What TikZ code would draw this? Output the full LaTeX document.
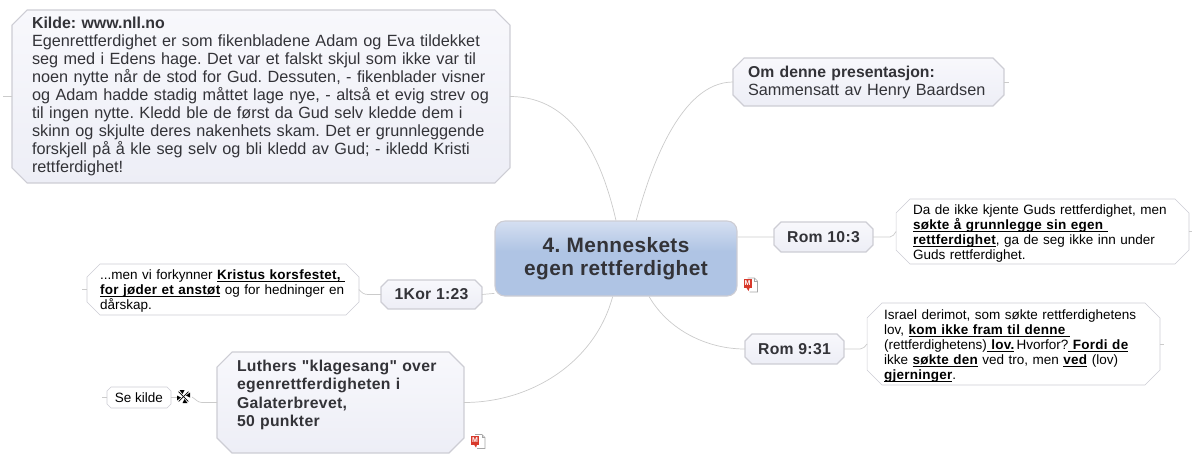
\documentclass[tikz,border=0pt]{standalone}
\usepackage{fontspec}
\setmainfont{Liberation Sans}
\newfontfamily\widefont[LetterSpace=2]{Liberation Sans}
\usetikzlibrary{calc}
\usetikzlibrary{backgrounds}
\definecolor{c_line}{HTML}{CBCBCB}
\definecolor{c_edge}{HTML}{CDCDD4}
\definecolor{c_box_top}{HTML}{F8F8FC}
\definecolor{c_box_bot}{HTML}{EDEEF6}
\definecolor{c_hub_top}{HTML}{D5DFF1}
\definecolor{c_hub_bot}{HTML}{AFC4E4}
\definecolor{c_text}{HTML}{333338}
\definecolor{c_mark}{HTML}{D8392B}
\pgfdeclareverticalshading{hubshade}{100bp}{color(0bp)=(c_hub_bot); color(55bp)=(c_hub_bot); color(75bp)=(c_hub_top); color(100bp)=(c_hub_top)}
\frenchspacing
\newcommand\ul[1]{\underline{\smash{\widefont\bfseries #1}}}
\newcommand\topfill{\rule{0pt}{9.5pt}}
\tikzset{
	px/.style={inner sep=0pt, outer sep=0pt, align=left},
	link/.style={c_line, line width=0.5pt},
	hubbox/.style={rectangle, rounded corners=7pt, draw=c_edge, thick, shading=hubshade, text=c_text, align=center, font=\fontsize{14.8}{16.8}\selectfont\widefont\bfseries},
	versebox/.style={px, align=center, text=c_text, font=\fontsize{11.2}{13}\selectfont\widefont\bfseries},
	notebox/.style={px, text=c_text, font=\fontsize{11.55}{12.8}\selectfont},
	textbox/.style={px, text=black, font=\fontsize{9.6}{10.67}\selectfont},
	greyfill/.style={draw=c_edge, thick, top color=c_box_top, bottom color=c_box_bot},
	whitefill/.style={draw=c_edge, fill=white},
	doc/.pic={
		\fill[white] (-7,-7) -- (4,-7) -- (7,-4) -- (7,7) -- (-7,7) -- cycle;
		\draw[gray!70, line width=0.4pt] (-1,7) -- (7,7) -- (7,-4) -- (4,-7) -- (-3,-7);
		\draw[gray!70, line width=0.4pt] (4,-7) -- (4,-4) -- (7,-4);
		\fill[c_mark] (-7,-6) rectangle (1,3);
		\fill[c_mark] (-4,3) -- (-2,6) -- (-1,3) -- cycle;
		\node[white, inner sep=0pt, font=\bfseries\fontsize{5}{5}\selectfont] at (-3,-1.5) {M};
	}
}
\begin{document}
\begin{tikzpicture}[x=0.025cm,y=-0.025cm]
	\useasboundingbox (0,0) rectangle (1200,463);

	\node[hubbox, minimum width=242*0.711pt, minimum height=75*0.711pt] (hub) at (616,258.5) {4. Menneskets\\egen rettferdighet};

	\node[notebox, text width=458*0.711pt, minimum width=498*0.711pt, minimum height=173*0.711pt] (kilde) at (261,96.5) {{\fontsize{11.3}{12.8}\selectfont\bfseries Kilde: www.nll.no}\\
		Egenrettferdighet er som fikenbladene Adam og Eva tildekket\\
		seg med i Edens hage. Det var et falskt skjul som ikke var til\\
		noen nytte når de stod for Gud. Dessuten, - fikenblader visner\\
		og Adam hadde stadig måttet lage nye, - altså et evig strev og\\
		til ingen nytte. Kledd ble de først da Gud selv kledde dem i\\
		skinn og skjulte deres nakenhets skam. Det er grunnleggende\\
		forskjell på å kle seg selv og bli kledd av Gud; - ikledd Kristi\\
		rettferdighet!};
	\node[notebox, text width=241*0.711pt, minimum width=271*0.711pt, minimum height=48*0.711pt] (denne) at (868.5,82) {{\fontsize{11.2}{12.8}\selectfont\bfseries Om denne presentasjon:}\\Sammensatt av Henry Baardsen};
	\node[versebox, minimum width=99*0.711pt, minimum height=30*0.711pt] (romti) at (823.5,237) {Rom 10:3};
	\node[versebox, minimum width=99*0.711pt, minimum height=30*0.711pt] (romni) at (794.5,349) {Rom 9:31};
	\node[versebox, minimum width=101*0.711pt, minimum height=29*0.711pt] (kor) at (431.5,294.5) {1Kor 1:23};
	\node[notebox, text width=207*0.711pt, minimum width=247*0.711pt, minimum height=101*0.711pt, font=\fontsize{11.2}{13}\selectfont\widefont\bfseries] (luther) at (340.5,402.5) {Luthers "klagesang" over\\egenrettferdigheten i\\Galaterbrevet,\\50 punkter\\~};

	\node[textbox, text width=259*0.711pt, minimum width=293*0.711pt, minimum height=65*0.711pt] (da) at (1042.5,231.5) {\topfill Da de ikke kjente Guds rettferdighet, men\\
		\ul{søkte å grunnlegge sin egen\ }\\
		\ul{rettferdighet}, ga de seg ikke inn under\\
		Guds rettferdighet.};
	\node[textbox, text width=259*0.711pt, minimum width=293*0.711pt, minimum height=82*0.711pt] (israel) at (1013.5,344) {\topfill Israel derimot, som søkte rettferdighetens\\
		lov, \ul{kom ikke fram til denne\ }\\
		(rettferdighetens)\underline{\ }\ul{lov.}\,Hvorfor?\underline{\ }\ul{Fordi de}\\
		ikke \ul{søkte den} ved tro, men \ul{ved} (lov)\\
		\ul{gjerninger}.};
	\node[textbox, text width=246*0.711pt, minimum width=272*0.711pt, minimum height=51*0.711pt] (men) at (223,289.5) {\topfill ...men vi forkynner \ul{Kristus korsfestet,\ }\\
		\ul{for jøder et anstøt} og for hedninger en\\
		dårskap.};
	\node[textbox, align=center, minimum width=64*0.711pt, minimum height=21*0.711pt] (se) at (139,397.5) {Se kilde};

	% link mark between the two boxes
	\coordinate (mark) at (183.5,396.5);
	\coordinate (markin) at (192,397);
	\coordinate (markout) at (177,397.5);
	\foreach \a in {0,90,180,270}
		\fill[black, rotate around={\a:(mark)}] (186,395.5) -- (190,392.5) -- (190,397.5) -- cycle;
	\foreach \a in {45,135,225,315}
		\draw[black, line width=0.5pt] (mark) -- ++(\a:7);

	\pic at (750.5,285) {doc};
	\pic at (478,441.5) {doc};

	\begin{scope}[on background layer]
		\foreach \n/\c/\s in {kilde/15/greyfill, denne/11/greyfill, romti/7/greyfill, romni/7/greyfill, kor/7/greyfill, luther/15/greyfill, da/14/whitefill, israel/15/whitefill, men/13/whitefill, se/4/whitefill}
			\draw[\s] ($(\n.north west)+(\c,0)$) -- ($(\n.north east)+(-\c,0)$) -- ($(\n.north east)+(0,\c)$) -- ($(\n.south east)+(0,-\c)$) -- ($(\n.south east)+(-\c,0)$) -- ($(\n.south west)+(\c,0)$) -- ($(\n.south west)+(0,-\c)$) -- ($(\n.north west)+(0,\c)$) -- cycle;

		\draw[link] (hub.62) to [out=75,in=180,looseness=0.8] (denne.west);
		\draw[link] (hub.north) to [out=103,in=0,looseness=1] (kilde.east);
		\draw[link] (hub.10) -- (romti.west);
		\draw[link] (hub.-49) to [out=-60,in=180,looseness=0.9] (romni.west);
		\draw[link] (hub.196) -- (kor.east);
		\draw[link] (hub.-95) to [out=-105,in=0,looseness=0.95] (luther.east);

		\draw[link] (romti.east) -- ++(17,0) to [out=0,in=-130] (da.west);
		\draw[link] (romni.east) -- ++(16,0) to [out=0,in=-130] (israel.west);
		\draw[link] (kor.west) -- ++(-13,0) to [out=180,in=-50] (men.east);
		\draw[link] (luther.west) -- ++(-15,0) to [out=180,in=-30] (markin);
		\draw[link] (se.east) -- (markout);

		\draw[link] (kilde.west) -- ++(-9,0);
		\draw[link] (denne.east) -- ++(5,0);
		\draw[link] (da.east) -- ++(3,0);
		\draw[link] (israel.east) -- ++(4,0);
		\draw[link] (men.west) -- ++(-5,0);
		\draw[link] (se.west) -- ++(-5,0);
	\end{scope}
\end{tikzpicture}
\end{document}
